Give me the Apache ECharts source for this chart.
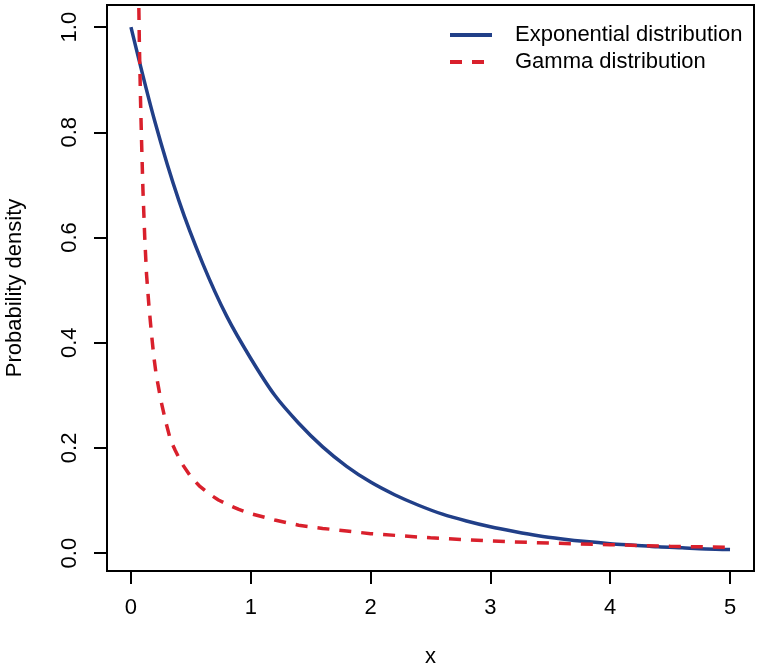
<!DOCTYPE html>
<html>
<head>
<meta charset="utf-8">
<script src="https://cdn.jsdelivr.net/npm/echarts@6/dist/echarts.min.js"></script>
<style>html,body{margin:0;padding:0;background:#fff}#c{width:760px;height:665px}</style>
</head>
<body>
<div id="c"></div>
<script>
var xTicks = [0, 1, 2, 3, 4, 5];
var yTicks = [0, 0.2, 0.4, 0.6, 0.8, 1.0];
var seriesNames = ['Exponential distribution', 'Gamma distribution'];
var expX = [0, 0.2, 0.4, 0.6, 0.8, 1, 1.2, 1.4, 1.6, 1.8, 2, 2.2, 2.4, 2.6, 2.8, 3, 3.2, 3.4, 3.6, 3.8, 4, 4.2, 4.4, 4.6, 4.8, 5];
var expY = [1.0, 0.82, 0.67, 0.55, 0.45, 0.37, 0.30, 0.247, 0.202, 0.165, 0.135, 0.111, 0.091, 0.074, 0.061, 0.05, 0.041, 0.033, 0.027, 0.022, 0.018, 0.015, 0.012, 0.010, 0.008, 0.007];
var gamX = [0.06, 0.065, 0.07, 0.08, 0.09, 0.1, 0.115, 0.13, 0.15, 0.17, 0.19, 0.21, 0.23, 0.25, 0.29, 0.33, 0.37, 0.42, 0.5, 0.57, 0.65, 0.73, 0.82, 0.9, 1.0, 1.2, 1.4, 1.6, 1.8, 2.0, 2.25, 2.5, 2.75, 3.0, 3.5, 4.0, 4.5, 5.0];
var gamY = [1.12, 1.05, 0.97, 0.86, 0.77, 0.69, 0.60, 0.53, 0.47, 0.42, 0.375, 0.34, 0.315, 0.29, 0.25, 0.215, 0.195, 0.172, 0.145, 0.128, 0.113, 0.101, 0.091, 0.083, 0.075, 0.063, 0.053, 0.047, 0.042, 0.037, 0.033, 0.029, 0.026, 0.023, 0.019, 0.016, 0.013, 0.011];

function pairs(xs, ys){ return xs.map(function(x,i){ return [x, ys[i]]; }); }
var FONT = '"Liberation Sans", Arial, sans-serif';
var FS = 22;
var chart = echarts.init(document.getElementById('c'), null, {renderer:'canvas'});
chart.setOption({
  backgroundColor: '#ffffff',
  animation: false,
  grid: {left: 107, right: 6, top: 5, bottom: 94, containLabel: false, outerBoundsMode: 'none',
         show: true, borderColor: '#000', borderWidth: 2, backgroundColor: 'transparent'},
  legend: {
    orient: 'vertical', left: 443, top: 19, itemWidth: 42, itemHeight: 14, itemGap: 5,
    itemStyle: {opacity: 0},
    lineStyle: {width: 4},
    textStyle: {fontFamily: FONT, fontSize: FS, color: '#000', padding: [0,0,0,18]},
    data: seriesNames.map(function(n){ return {name: n}; })
  },
  xAxis: {
    type: 'value', min: -0.2, max: 5.2,
    name: 'x', nameLocation: 'middle', nameGap: 75, nameMoveOverlap: false,
    nameTextStyle: {fontFamily: FONT, fontSize: FS, color: '#000'},
    axisLine: {show: false, onZero: false},
    splitLine: {show: false},
    axisTick: {show: true, length: 13, lineStyle: {color: '#000', width: 2}, customValues: xTicks},
    axisLabel: {fontFamily: FONT, fontSize: FS, color: '#000', margin: 26, customValues: xTicks, formatter: function(v){ return String(v); }}
  },
  yAxis: {
    type: 'value', min: -0.034, max: 1.042,
    name: 'Probability density', nameLocation: 'middle', nameGap: 81, nameMoveOverlap: false,
    nameTextStyle: {fontFamily: FONT, fontSize: FS, color: '#000'},
    axisLine: {show: false, onZero: false},
    splitLine: {show: false},
    axisTick: {show: true, length: 13, lineStyle: {color: '#000', width: 2}, customValues: yTicks},
    axisLabel: {fontFamily: FONT, fontSize: FS, color: '#000', margin: 26, rotate: 90, customValues: yTicks, formatter: function(v){ return v.toFixed(1); }}
  },
  series: [
    {name: seriesNames[0], type: 'line', data: pairs(expX, expY), smooth: 0.3, symbol: 'none', showSymbol: false,
     lineStyle: {color: '#213f88', width: 3.5}, itemStyle: {color: '#213f88'}},
    {name: seriesNames[1], type: 'line', data: pairs(gamX, gamY), smooth: false, symbol: 'none', showSymbol: false, clip: true,
     lineStyle: {color: '#d9202c', width: 3.5, type: [12, 10]}, itemStyle: {color: '#d9202c'}}
  ]
});
</script>
</body>
</html>
